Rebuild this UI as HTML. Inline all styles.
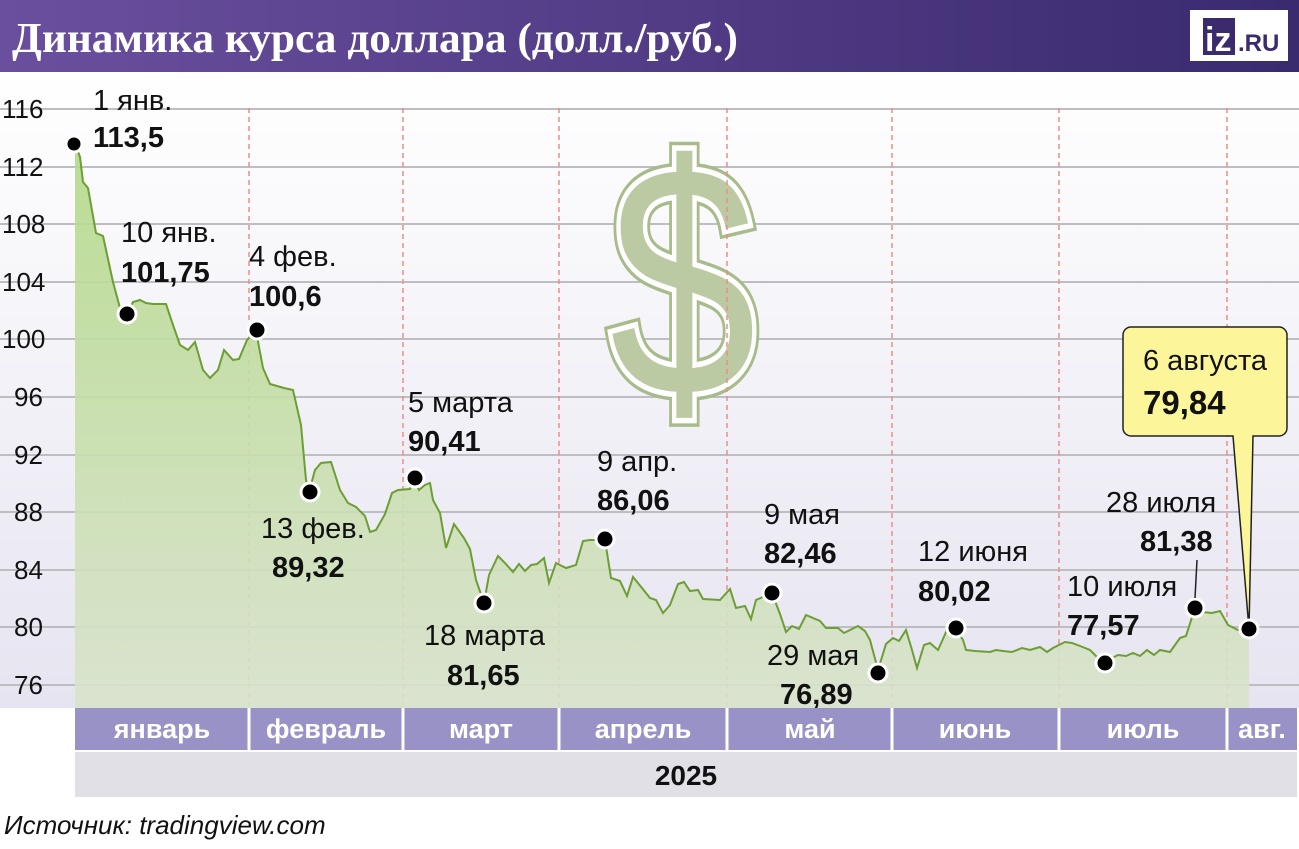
<!DOCTYPE html>
<html><head><meta charset="utf-8"><style>
body{margin:0;width:1299px;height:844px;overflow:hidden;background:#fff;font-family:"Liberation Sans Narrow","Liberation Sans",sans-serif}
</style></head><body>
<svg width="1299" height="844" viewBox="0 0 1299 844" xmlns="http://www.w3.org/2000/svg" font-family="Liberation Sans Narrow, Liberation Sans, sans-serif">
<defs>
<linearGradient id="hd" x1="0" x2="1"><stop offset="0" stop-color="#6a4f9e"/><stop offset="1" stop-color="#3a2a6e"/></linearGradient>
<linearGradient id="bg" x1="0" y1="0" x2="0" y2="1"><stop offset="0" stop-color="#ffffff"/><stop offset="1" stop-color="#e6e4f0"/></linearGradient>
<linearGradient id="ar" x1="0" y1="0" x2="0" y2="1"><stop offset="0" stop-color="#b3d988"/><stop offset="1" stop-color="#d9e3cc"/></linearGradient>
</defs>
<rect x="0" y="0" width="1299" height="72" fill="url(#hd)"/>
<text x="12" y="52" font-size="42" font-weight="bold" fill="#fff" font-family="Liberation Serif, serif" textLength="726" lengthAdjust="spacingAndGlyphs">Динамика курса доллара (долл./руб.)</text>
<rect x="1190" y="10" width="98" height="51" fill="#fff"/>
<rect x="1203" y="18" width="32" height="37" fill="#3b2b6e"/>
<text x="1205" y="51" font-size="34" font-weight="bold" fill="#fff" font-family="Liberation Sans, sans-serif">iz</text>
<text x="1238" y="51" font-size="24" font-weight="bold" fill="#3b2b6e" font-family="Liberation Sans, sans-serif">.RU</text>
<rect x="0" y="72" width="1299" height="636" fill="url(#bg)"/>
<g stroke="#bdbdc2" stroke-width="2">
<line x1="0" y1="109" x2="1299" y2="109"/><line x1="0" y1="167" x2="1299" y2="167"/><line x1="0" y1="224" x2="1299" y2="224"/><line x1="0" y1="282" x2="1299" y2="282"/><line x1="0" y1="339" x2="1299" y2="339"/><line x1="0" y1="397" x2="1299" y2="397"/><line x1="0" y1="455" x2="1299" y2="455"/><line x1="0" y1="512" x2="1299" y2="512"/><line x1="0" y1="570" x2="1299" y2="570"/><line x1="0" y1="627" x2="1299" y2="627"/><line x1="0" y1="685" x2="1299" y2="685"/>
</g>
<g font-size="26" fill="#111">
<text x="2" y="118">116</text><text x="2" y="176">112</text><text x="2" y="233">108</text><text x="2" y="291">104</text><text x="2" y="348">100</text><text x="14" y="406">96</text><text x="14" y="464">92</text><text x="14" y="521">88</text><text x="14" y="579">84</text><text x="14" y="636">80</text><text x="14" y="694">76</text>
</g>
<g transform="translate(683,0) scale(0.8,1)">
<text x="0" y="395" font-size="330" fill="#bccaa4" stroke="#a8bb8a" stroke-width="18" text-anchor="middle" font-family="Liberation Sans, sans-serif">$</text>
<text x="0" y="395" font-size="330" fill="#bccaa4" stroke="#fff" stroke-width="11" text-anchor="middle" font-family="Liberation Sans, sans-serif">$</text>
<text x="0" y="395" font-size="330" fill="#bccaa4" text-anchor="middle" font-family="Liberation Sans, sans-serif">$</text>
</g>
<g stroke="#ee8d84" stroke-width="1.5" stroke-dasharray="5,4">
<line x1="249" y1="108" x2="249" y2="708"/><line x1="403" y1="108" x2="403" y2="708"/><line x1="559" y1="108" x2="559" y2="708"/><line x1="727" y1="108" x2="727" y2="708"/><line x1="892" y1="108" x2="892" y2="708"/><line x1="1059" y1="108" x2="1059" y2="708"/><line x1="1227" y1="108" x2="1227" y2="708"/>
</g>
<polygon fill="url(#ar)" fill-opacity="0.9" points="75,143 80,157 83,182 88,188 96,233 103,236 113,282 120,308 127,314 133,302 140,300 146,303 153,304 166,304 172,322 180,345 188,350 195,342 203,370 210,378 218,370 224,350 233,360 239,359 247,340 256,331 263,368 270,384 277,386 284,388 293,390 301,425 306,480 309,492 315,470 321,463 331,462 340,490 348,503 356,507 365,516 370,532 376,530 385,514 392,493 398,490 410,489 414,478 419,490 425,485 430,483 433,500 440,513 446,548 454,524 464,538 470,549 476,580 484,603 489,575 498,556 505,563 513,572 519,564 525,571 531,565 537,564 544,558 549,583 556,563 566,568 576,565 583,541 590,540 605,540 611,578 620,581 627,596 633,577 642,588 650,598 656,600 663,613 670,605 678,584 684,582 690,591 698,590 703,599 720,600 730,589 736,608 745,606 751,619 756,600 772,593 780,614 786,632 792,626 799,629 806,615 820,621 826,628 838,628 844,633 850,630 858,626 865,631 870,640 878,670 886,644 893,638 899,641 906,630 912,650 917,668 924,645 930,643 938,650 947,630 955,628 963,640 966,650 975,651 990,652 996,650 1003,651 1012,652 1022,648 1030,650 1040,647 1047,652 1053,648 1065,642 1072,643 1080,646 1090,650 1100,660 1106,663 1112,658 1118,655 1126,656 1133,653 1140,656 1147,650 1154,655 1160,650 1170,652 1180,638 1186,636 1195,608 1202,612 1212,613 1220,611 1228,625 1238,630 1249,629 1249,708 75,708"/>
<polyline fill="none" stroke="#6c9e34" stroke-width="2" points="75,143 80,157 83,182 88,188 96,233 103,236 113,282 120,308 127,314 133,302 140,300 146,303 153,304 166,304 172,322 180,345 188,350 195,342 203,370 210,378 218,370 224,350 233,360 239,359 247,340 256,331 263,368 270,384 277,386 284,388 293,390 301,425 306,480 309,492 315,470 321,463 331,462 340,490 348,503 356,507 365,516 370,532 376,530 385,514 392,493 398,490 410,489 414,478 419,490 425,485 430,483 433,500 440,513 446,548 454,524 464,538 470,549 476,580 484,603 489,575 498,556 505,563 513,572 519,564 525,571 531,565 537,564 544,558 549,583 556,563 566,568 576,565 583,541 590,540 605,540 611,578 620,581 627,596 633,577 642,588 650,598 656,600 663,613 670,605 678,584 684,582 690,591 698,590 703,599 720,600 730,589 736,608 745,606 751,619 756,600 772,593 780,614 786,632 792,626 799,629 806,615 820,621 826,628 838,628 844,633 850,630 858,626 865,631 870,640 878,670 886,644 893,638 899,641 906,630 912,650 917,668 924,645 930,643 938,650 947,630 955,628 963,640 966,650 975,651 990,652 996,650 1003,651 1012,652 1022,648 1030,650 1040,647 1047,652 1053,648 1065,642 1072,643 1080,646 1090,650 1100,660 1106,663 1112,658 1118,655 1126,656 1133,653 1140,656 1147,650 1154,655 1160,650 1170,652 1180,638 1186,636 1195,608 1202,612 1212,613 1220,611 1228,625 1238,630 1249,629"/>
<path d="M1131,327 h148 a8,8 0 0 1 8,8 v93 a8,8 0 0 1 -8,8 h-26 l-4,193 l-16,-193 h-102 a8,8 0 0 1 -8,-8 v-93 a8,8 0 0 1 8,-8z" fill="#fdf59a" stroke="#222" stroke-width="1.5"/>
<g fill="#000" stroke="#fff" stroke-width="3">
<circle cx="74" cy="144" r="8"/><circle cx="127" cy="314" r="9"/><circle cx="257" cy="330" r="9"/><circle cx="310" cy="492" r="9"/><circle cx="415" cy="478" r="9"/><circle cx="484" cy="603" r="9"/><circle cx="605" cy="539" r="9"/><circle cx="772" cy="593" r="9"/><circle cx="878" cy="673" r="9"/><circle cx="956" cy="628" r="9"/><circle cx="1105" cy="663" r="9"/><circle cx="1195" cy="608" r="9"/><circle cx="1249" cy="629" r="9"/>
</g>
<line x1="1195" y1="598" x2="1197" y2="560" stroke="#222" stroke-width="1.5"/>
<g font-size="29" fill="#111">
<text x="93" y="110">1 янв.</text><text x="93" y="147" font-weight="bold">113,5</text>
<text x="121" y="242">10 янв.</text><text x="121" y="282" font-weight="bold">101,75</text>
<text x="249" y="266">4 фев.</text><text x="249" y="306" font-weight="bold">100,6</text>
<text x="261" y="538">13 фев.</text><text x="272" y="577" font-weight="bold">89,32</text>
<text x="408" y="412">5 марта</text><text x="408" y="451" font-weight="bold">90,41</text>
<text x="424" y="645">18 марта</text><text x="447" y="685" font-weight="bold">81,65</text>
<text x="597" y="471">9 апр.</text><text x="597" y="510" font-weight="bold">86,06</text>
<text x="764" y="524">9 мая</text><text x="764" y="563" font-weight="bold">82,46</text>
<text x="767" y="665">29 мая</text><text x="780" y="704" font-weight="bold">76,89</text>
<text x="918" y="561">12 июня</text><text x="918" y="601" font-weight="bold">80,02</text>
<text x="1067" y="596">10 июля</text><text x="1067" y="635" font-weight="bold">77,57</text>
<text x="1106" y="512">28 июля</text><text x="1140" y="551" font-weight="bold">81,38</text>
<text x="1143" y="370">6 августа</text><text x="1143" y="414" font-weight="bold" font-size="33">79,84</text>
</g>
<rect x="75" y="708" width="1222" height="42" fill="#9992c6"/>
<rect x="75" y="752" width="1222" height="45" fill="#e1e0e7"/>
<g stroke="#fff" stroke-width="3"><line x1="249" y1="708" x2="249" y2="750"/><line x1="403" y1="708" x2="403" y2="750"/><line x1="559" y1="708" x2="559" y2="750"/><line x1="727" y1="708" x2="727" y2="750"/><line x1="892" y1="708" x2="892" y2="750"/><line x1="1059" y1="708" x2="1059" y2="750"/><line x1="1227" y1="708" x2="1227" y2="750"/></g>
<g font-size="27" fill="#fff" font-weight="bold" text-anchor="middle">
<text x="162" y="738">январь</text><text x="326" y="738">февраль</text><text x="481" y="738">март</text><text x="643" y="738">апрель</text><text x="810" y="738">май</text><text x="975" y="738">июнь</text><text x="1143" y="738">июль</text><text x="1262" y="738">авг.</text>
</g>
<text x="686" y="785" font-size="28" font-weight="bold" fill="#111" text-anchor="middle">2025</text>
<text x="4" y="834" font-size="26" font-style="italic" fill="#111" font-family="Liberation Sans, sans-serif">Источник: tradingview.com</text>
</svg>
</body></html>
